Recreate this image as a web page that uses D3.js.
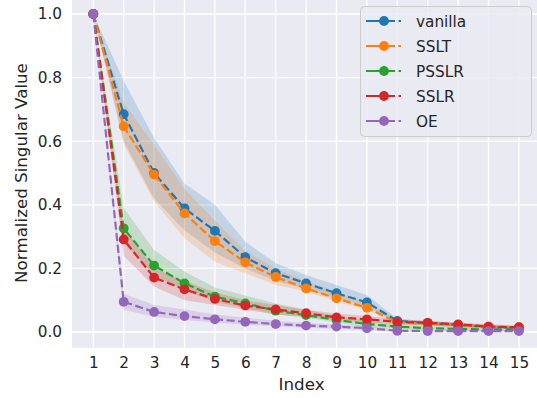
<!DOCTYPE html>
<html>
<head>
<meta charset="utf-8">
<script src="https://cdn.jsdelivr.net/npm/d3@7"></script>
<style>
  html, body { margin: 0; padding: 0; background: #ffffff; }
  svg { display: block; }
  text { font-family: "DejaVu Sans", sans-serif; fill: #262626; }
</style>
</head>
<body>
<svg id="chart" width="537" height="398"></svg>
<script>
// ---- data ----
const indices = [1, 2, 3, 4, 5, 6, 7, 8, 9, 10, 11, 12, 13, 14, 15];
const seriesNames = ["vanilla", "SSLT", "PSSLR", "SSLR", "OE"];
const seriesColors = ["#1f77b4", "#ff7f0e", "#2ca02c", "#d62728", "#9467bd"];

const vanillaMean  = [1.0, 0.685, 0.500, 0.389, 0.318, 0.235, 0.185, 0.153, 0.122, 0.093, 0.035, 0.028, 0.022, 0.016, 0.013];
const vanillaLower = [1.0, 0.600, 0.420, 0.320, 0.250, 0.200, 0.160, 0.135, 0.105, 0.080, 0.028, 0.020, 0.015, 0.010, 0.008];
const vanillaUpper = [1.0, 0.790, 0.610, 0.467, 0.400, 0.284, 0.216, 0.179, 0.148, 0.116, 0.042, 0.034, 0.028, 0.022, 0.018];

const ssltMean  = [1.0, 0.647, 0.495, 0.373, 0.286, 0.219, 0.173, 0.137, 0.106, 0.076, 0.030, 0.027, 0.022, 0.017, 0.015];
const ssltLower = [1.0, 0.590, 0.410, 0.295, 0.221, 0.185, 0.148, 0.127, 0.095, 0.069, 0.024, 0.020, 0.016, 0.012, 0.010];
const ssltUpper = [1.0, 0.720, 0.590, 0.450, 0.350, 0.255, 0.200, 0.160, 0.125, 0.095, 0.038, 0.034, 0.028, 0.022, 0.020];

const psslrMean  = [1.0, 0.326, 0.209, 0.153, 0.111, 0.090, 0.067, 0.053, 0.038, 0.025, 0.017, 0.012, 0.010, 0.008, 0.007];
const psslrLower = [1.0, 0.280, 0.180, 0.130, 0.095, 0.075, 0.055, 0.045, 0.030, 0.015, 0.010, 0.006, 0.005, 0.004, 0.004];
const psslrUpper = [1.0, 0.390, 0.258, 0.190, 0.140, 0.115, 0.090, 0.070, 0.050, 0.035, 0.025, 0.018, 0.016, 0.014, 0.012];

const sslrMean  = [1.0, 0.291, 0.171, 0.134, 0.104, 0.083, 0.071, 0.059, 0.046, 0.040, 0.032, 0.029, 0.024, 0.017, 0.015];
const sslrLower = [1.0, 0.240, 0.143, 0.100, 0.085, 0.070, 0.055, 0.048, 0.037, 0.030, 0.025, 0.020, 0.018, 0.012, 0.010];
const sslrUpper = [1.0, 0.330, 0.200, 0.160, 0.125, 0.100, 0.085, 0.070, 0.058, 0.050, 0.040, 0.035, 0.030, 0.024, 0.020];

const oeMean  = [1.0, 0.095, 0.063, 0.050, 0.040, 0.032, 0.025, 0.020, 0.017, 0.012, 0.004, 0.003, 0.003, 0.003, 0.003];
const oeLower = [1.0, 0.070, 0.048, 0.038, 0.030, 0.023, 0.018, 0.013, 0.010, 0.006, 0.000, 0.000, 0.000, 0.000, 0.000];
const oeUpper = [1.0, 0.120, 0.085, 0.071, 0.055, 0.045, 0.035, 0.028, 0.024, 0.018, 0.008, 0.007, 0.007, 0.007, 0.007];

const xTicks = [1, 2, 3, 4, 5, 6, 7, 8, 9, 10, 11, 12, 13, 14, 15];
const yTicks = [0.0, 0.2, 0.4, 0.6, 0.8, 1.0];
const xLabel = "Index";
const yLabel = "Normalized Singular Value";

const series = [
  { mean: vanillaMean, lower: vanillaLower, upper: vanillaUpper },
  { mean: ssltMean, lower: ssltLower, upper: ssltUpper },
  { mean: psslrMean, lower: psslrLower, upper: psslrUpper },
  { mean: sslrMean, lower: sslrLower, upper: sslrUpper },
  { mean: oeMean, lower: oeLower, upper: oeUpper }
].map((s, i) => ({ ...s, name: seriesNames[i], color: seriesColors[i] }));

// ---- layout ----
const svg = d3.select("#chart");
const x = d3.scaleLinear().domain([0.3, 15.7]).range([72.0, 540.2]);
const y = d3.scaleLinear().domain([-0.05, 1.05]).range([347.9, -1.9]);

svg.append("defs").append("clipPath").attr("id", "plotclip")
  .append("rect")
  .attr("x", x(0.3)).attr("y", y(1.05))
  .attr("width", x(15.7) - x(0.3)).attr("height", y(-0.05) - y(1.05));

// background
svg.append("rect")
  .attr("x", x(0.3)).attr("y", y(1.05))
  .attr("width", x(15.7) - x(0.3)).attr("height", y(-0.05) - y(1.05))
  .attr("fill", "#eaeaf2");

// grid
const grid = svg.append("g");
grid.selectAll(".gx").data(xTicks).enter().append("line")
  .attr("x1", d => x(d)).attr("x2", d => x(d))
  .attr("y1", y(1.05)).attr("y2", y(-0.05))
  .attr("stroke", "#ffffff").attr("stroke-width", 1.3);
grid.selectAll(".gy").data(yTicks).enter().append("line")
  .attr("x1", x(0.3)).attr("x2", x(15.7))
  .attr("y1", d => y(d)).attr("y2", d => y(d))
  .attr("stroke", "#ffffff").attr("stroke-width", 1.3);

// axes (tick labels only)
const xAxis = d3.axisBottom(x).tickValues(xTicks).tickSize(0).tickPadding(0).tickFormat(d3.format("d"));
const gx = svg.append("g").attr("transform", `translate(0,${y(-0.05)})`).call(xAxis);
gx.select(".domain").remove();
gx.selectAll("text").attr("font-size", "15.3px").attr("dy", "1.05em").attr("y", 4)
  .style("font-family", "DejaVu Sans").attr("fill", "#262626");

const yAxis = d3.axisLeft(y).tickValues(yTicks).tickSize(0).tickPadding(10).tickFormat(d3.format(".1f"));
const gy = svg.append("g").attr("transform", `translate(${x(0.3)},0)`).call(yAxis);
gy.select(".domain").remove();
gy.selectAll("text").attr("font-size", "15.3px")
  .style("font-family", "DejaVu Sans").attr("fill", "#262626");

svg.append("text").text(xLabel)
  .attr("x", (x(0.3) + x(15.4)) / 2).attr("y", 390)
  .attr("text-anchor", "middle").attr("font-size", "16.7px");
svg.append("text").text(yLabel)
  .attr("transform", `translate(27,${(y(1.05) + y(-0.05)) / 2}) rotate(-90)`)
  .attr("text-anchor", "middle").attr("font-size", "16.7px");

// series
const plot = svg.append("g").attr("clip-path", "url(#plotclip)");
const area = d3.area().x((d, i) => x(indices[i])).y0(d => y(d[0])).y1(d => y(d[1]));
const line = d3.line().x((d, i) => x(indices[i])).y(d => y(d));

series.forEach(s => {
  const bandData = s.lower.map((l, i) => [l, s.upper[i]]);
  plot.append("path").datum(bandData)
    .attr("d", area).attr("fill", s.color).attr("fill-opacity", 0.2).attr("stroke", "none");
});
series.forEach(s => {
  plot.append("path").datum(s.mean)
    .attr("d", line).attr("fill", "none").attr("stroke", s.color)
    .attr("stroke-width", 2.2).attr("stroke-dasharray", "8.1,3.5");
  plot.selectAll(null).data(s.mean).enter().append("circle")
    .attr("cx", (d, i) => x(indices[i])).attr("cy", d => y(d))
    .attr("r", 4.9).attr("fill", s.color);
});

// legend
const legend = svg.append("g");
legend.append("rect")
  .attr("x", 360.5).attr("y", 6.5).attr("width", 171).attr("height", 130)
  .attr("rx", 4).attr("ry", 4)
  .attr("fill", "#eaeaf2").attr("fill-opacity", 0.8)
  .attr("stroke", "#cccccc").attr("stroke-width", 1);
series.forEach((s, i) => {
  const cy = 21 + i * 25;
  legend.append("line")
    .attr("x1", 366).attr("x2", 401).attr("y1", cy).attr("y2", cy)
    .attr("stroke", s.color).attr("stroke-width", 2.2)
    .attr("stroke-dasharray", "29,3.5,2.5,50");
  legend.append("circle").attr("cx", 384).attr("cy", cy).attr("r", 4.9).attr("fill", s.color);
  legend.append("text").text(s.name)
    .attr("x", 416).attr("y", cy).attr("dy", "0.36em")
    .attr("font-size", "15.3px");
});
</script>
</body>
</html>
